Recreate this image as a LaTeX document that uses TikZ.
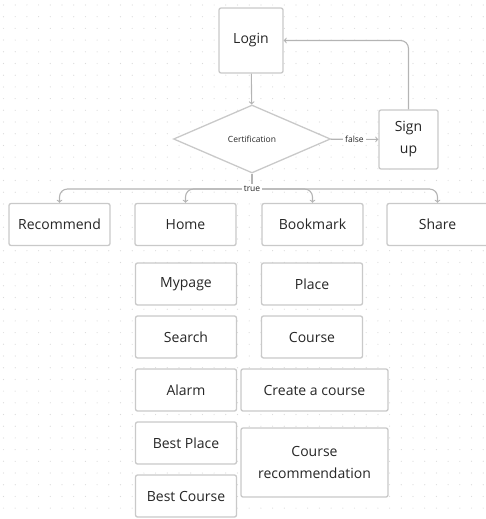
\documentclass[tikz,border=0pt]{standalone}
\usepackage{fontspec}
\setmainfont{Open Sans}
\usetikzlibrary{shapes.geometric}
\usetikzlibrary{positioning}
\usetikzlibrary{arrows}
\definecolor{box-gray}{HTML}{C9C9C9}
\definecolor{line-gray}{HTML}{B4B4B4}
\definecolor{dot-gray}{HTML}{DADADA}
\definecolor{ink}{HTML}{262626}
\tikzset{
  menu-box/.style={draw=box-gray, line width=1.3pt, rounded corners=2pt, fill=white,
    text=ink, font=\fontsize{14}{22}\selectfont, align=center,
    minimum width=101pt, minimum height=42pt, inner sep=2pt},
  check-box/.style={diamond, draw=box-gray, line width=1.3pt, fill=white, text=ink,
    font=\fontsize{8.5}{10}\selectfont, minimum width=157pt, minimum height=68pt, inner sep=0pt},
  flow-path/.style={draw=line-gray, line width=1.1pt, -to},
  flow-label/.style={fill=white, text=ink, font=\fontsize{8.5}{10}\selectfont, inner sep=2pt},
}
\begin{document}
\begin{tikzpicture}[x=1pt, y=-1pt]
\useasboundingbox (0,0) rectangle (486,519);
% dot grid
\foreach \i in {0,...,41} {%
  \foreach \j in {0,...,44} {
    \fill[dot-gray] (3.5+11.7*\i, 5+11.7*\j) circle (0.6pt);
  }
}
% flow
\node[menu-box, minimum width=64pt, minimum height=65pt] (login) at (251,40.5) {Login};
\node[check-box] (cert) at (252,139) {Certification};
\node[menu-box, minimum width=59pt, minimum height=59pt] (signup) at (408.5,139.5) {Sign\\up};
\coordinate (split) at (252,189);
% top row
\node[menu-box] (recommend) at (59.5,224.5) {Recommend};
\node[menu-box] (home) at (185.5,224.5) {Home};
\node[menu-box] (bookmark) at (312.5,224.5) {Bookmark};
\node[menu-box] (share) at (437.5,224.5) {Share};
% home column
\node[menu-box] (mypage) at (186,284) {Mypage};
\node[menu-box] (search) at (186,337) {Search};
\node[menu-box] (alarm) at (186,390) {Alarm};
\node[menu-box] (bestplace) at (186,443) {Best Place};
\node[menu-box] (bestcourse) at (186,496) {Best Course};
% bookmark column
\node[menu-box] (place) at (312,284) {Place};
\node[menu-box] (course) at (312,337) {Course};
\node[menu-box, minimum width=147pt] (create) at (314.5,390) {Create a course};
\node[menu-box, minimum width=147pt, minimum height=69pt] (courserec) at (314.5,462.5) {Course\\recommendation};
% connectors
\draw[flow-path] (login) -- (cert);
\draw[flow-path] (cert) -- node[flow-label] {false} (signup);
\draw[flow-path, rounded corners=8pt] (signup.north) |- (login.east);
\draw[draw=line-gray, line width=1.1pt] (cert.south) -- (split);
\foreach \target in {recommend,home,bookmark,share} {
  \draw[flow-path, rounded corners=8pt] (split) -| (\target.north);
}
\node[flow-label] (truelabel) at (split) {true};
\end{tikzpicture}
\end{document}
